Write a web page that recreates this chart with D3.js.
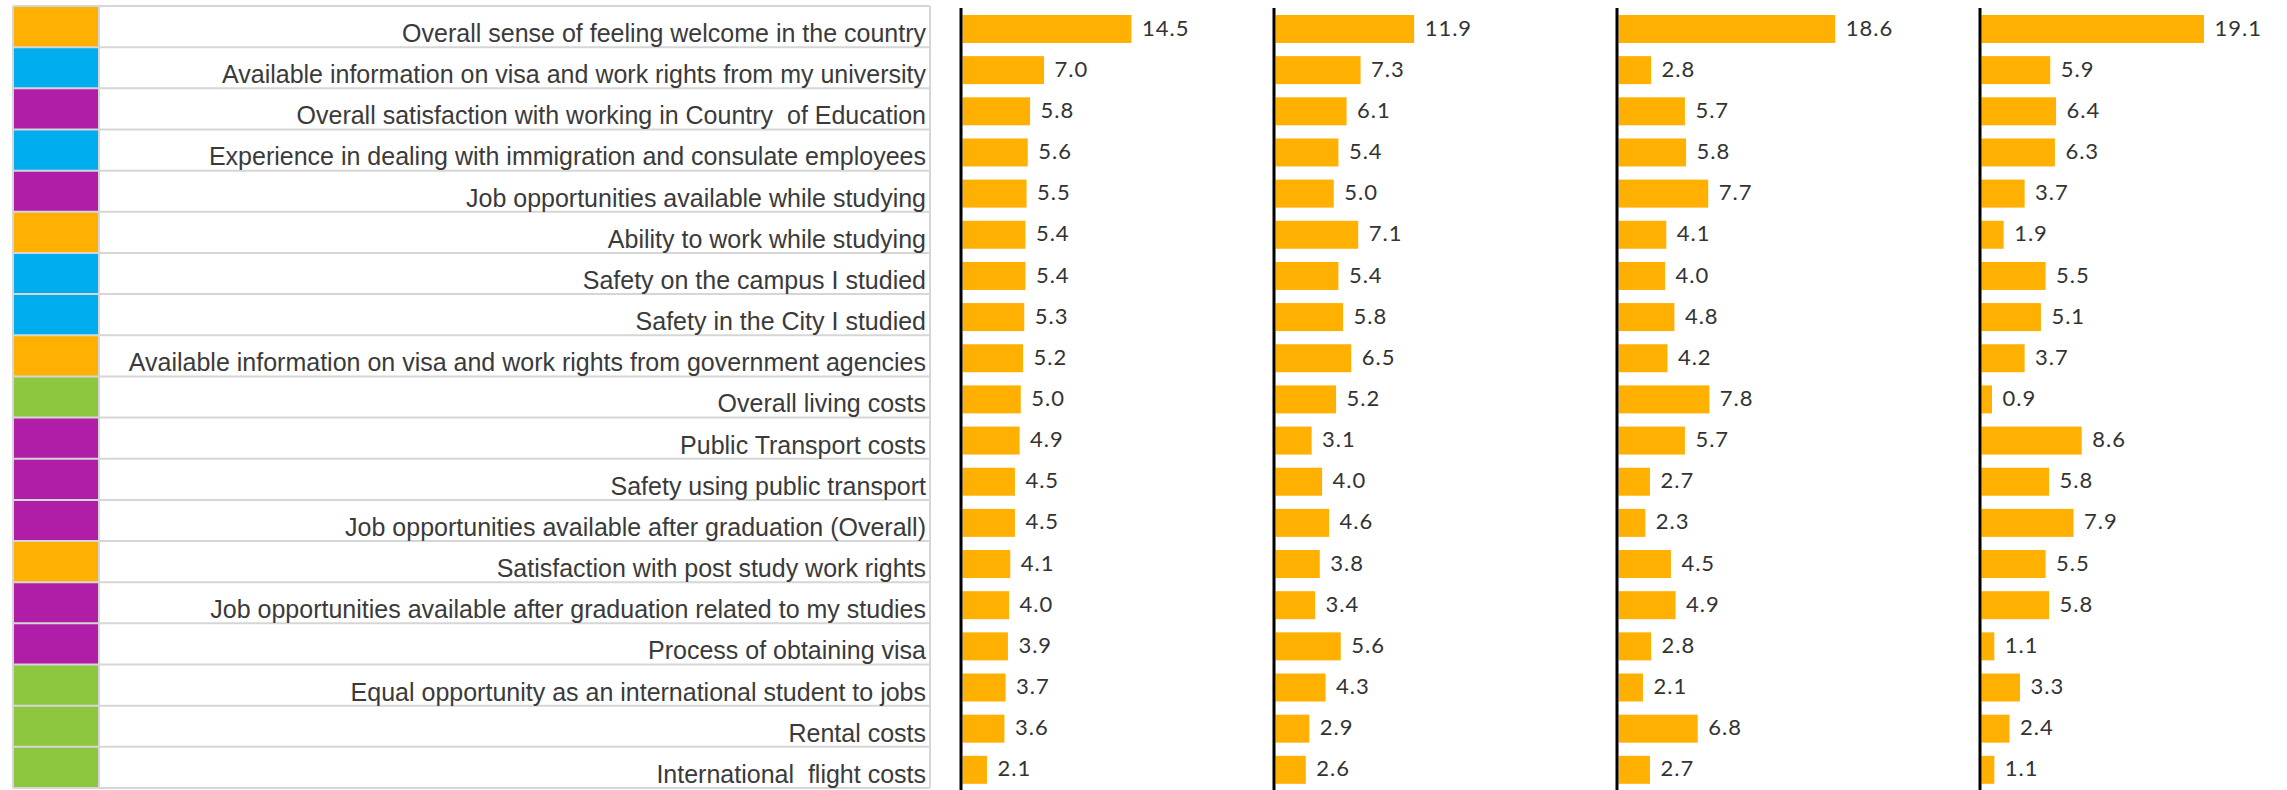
<!DOCTYPE html>
<html>
<head>
<meta charset="utf-8">
<script src="https://cdn.jsdelivr.net/npm/d3@7"></script>
<style>
  body { margin: 0; background: #fff; }
  .label { font-family: "Liberation Sans", Arial, sans-serif; fill: #3a3a3a; }
  .value { font-family: Lato, "Liberation Sans", sans-serif; fill: #333; }
</style>
</head>
<body>
<div id="chart"></div>
<script>
// categories, top to bottom
var categories = [
  "Overall sense of feeling welcome in the country",
  "Available information on visa and work rights from my university",
  "Overall satisfaction with working in Country  of Education",
  "Experience in dealing with immigration and consulate employees",
  "Job opportunities available while studying",
  "Ability to work while studying",
  "Safety on the campus I studied",
  "Safety in the City I studied",
  "Available information on visa and work rights from government agencies",
  "Overall living costs",
  "Public Transport costs",
  "Safety using public transport",
  "Job opportunities available after graduation (Overall)",
  "Satisfaction with post study work rights",
  "Job opportunities available after graduation related to my studies",
  "Process of obtaining visa",
  "Equal opportunity as an international student to jobs",
  "Rental costs",
  "International  flight costs"
];

// group of each category (drives the colour swatch)
var groups = ["A", "B", "C", "B", "C", "A", "B", "B", "A", "D",
              "C", "C", "C", "A", "C", "C", "D", "D", "D"];

// four panels of values
var series1 = [14.5, 7.0, 5.8, 5.6, 5.5, 5.4, 5.4, 5.3, 5.2, 5.0, 4.9, 4.5, 4.5, 4.1, 4.0, 3.9, 3.7, 3.6, 2.1];
var series2 = [11.9, 7.3, 6.1, 5.4, 5.0, 7.1, 5.4, 5.8, 6.5, 5.2, 3.1, 4.0, 4.6, 3.8, 3.4, 5.6, 4.3, 2.9, 2.6];
var series3 = [18.6, 2.8, 5.7, 5.8, 7.7, 4.1, 4.0, 4.8, 4.2, 7.8, 5.7, 2.7, 2.3, 4.5, 4.9, 2.8, 2.1, 6.8, 2.7];
var series4 = [19.1, 5.9, 6.4, 6.3, 3.7, 1.9, 5.5, 5.1, 3.7, 0.9, 8.6, 5.8, 7.9, 5.5, 5.8, 1.1, 3.3, 2.4, 1.1];

var allSeries = [series1, series2, series3, series4];

var width = 2287, height = 790;

var svg = d3.select("#chart").append("svg")
    .attr("width", width)
    .attr("height", height);

var groupColor = d3.scaleOrdinal()
    .domain(["A", "B", "C", "D"])
    .range(["#ffb000", "#00aeef", "#b01ea8", "#8dc63f"]);

// ---- left table ----
var tableLeft = 13, swatchRight = 99, tableRight = 930;

var rowY = d3.scaleBand()
    .domain(d3.range(categories.length))
    .range([6, 788]);

var table = svg.append("g").attr("class", "table");

table.selectAll(".swatch")
    .data(categories)
    .enter().append("rect")
    .attr("class", "swatch")
    .attr("x", tableLeft)
    .attr("y", function(d, i) { return rowY(i); })
    .attr("width", swatchRight - tableLeft)
    .attr("height", rowY.bandwidth())
    .attr("fill", function(d, i) { return groupColor(groups[i]); });

// horizontal grid lines
table.selectAll(".hline")
    .data(d3.range(categories.length + 1))
    .enter().append("line")
    .attr("class", "hline")
    .attr("x1", tableLeft)
    .attr("x2", tableRight)
    .attr("y1", function(i) { return i < categories.length ? rowY(i) : rowY(i - 1) + rowY.bandwidth(); })
    .attr("y2", function(i) { return i < categories.length ? rowY(i) : rowY(i - 1) + rowY.bandwidth(); })
    .attr("stroke", "#d6d6d6")
    .attr("stroke-width", 2);

// vertical grid lines
table.selectAll(".vline")
    .data([tableLeft, swatchRight, tableRight])
    .enter().append("line")
    .attr("class", "vline")
    .attr("x1", function(d) { return d; })
    .attr("x2", function(d) { return d; })
    .attr("y1", rowY.range()[0])
    .attr("y2", rowY.range()[1])
    .attr("stroke", "#d6d6d6")
    .attr("stroke-width", 2);

table.selectAll(".label")
    .data(categories)
    .enter().append("text")
    .attr("class", "label")
    .attr("x", tableRight - 4)
    .attr("y", function(d, i) { return rowY(i) + 36; })
    .attr("text-anchor", "end")
    .style("font-size", "25px")
    .style("white-space", "pre")
    .text(function(d) { return d; });

// ---- bar panels ----
var panelX = [961, 1274, 1617, 1980];

var x = d3.scaleLinear()
    .domain([0, 20])
    .range([0, 233]);

var barY = d3.scaleBand()
    .domain(d3.range(categories.length))
    .range([8.4, 790.4])
    .paddingInner(0.32)
    .paddingOuter(0.16);

allSeries.forEach(function(values, p) {
    var g = svg.append("g")
        .attr("class", "panel")
        .attr("transform", "translate(" + panelX[p] + ",0)");

    g.selectAll(".bar")
        .data(values)
        .enter().append("rect")
        .attr("class", "bar")
        .attr("x", 1.5)
        .attr("y", function(d, i) { return barY(i); })
        .attr("width", function(d) { return x(d); })
        .attr("height", barY.bandwidth())
        .attr("fill", "#ffb000");

    g.selectAll(".value")
        .data(values)
        .enter().append("text")
        .attr("class", "value")
        .attr("x", function(d) { return x(d) + 12; })
        .attr("y", function(d, i) { return barY(i) + barY.bandwidth() / 2 + 1; })
        .attr("dominant-baseline", "middle")
        .style("font-size", "22px")
        .style("letter-spacing", "1px")
        .text(function(d) { return d3.format(".1f")(d); });

    // zero axis line
    g.append("line")
        .attr("x1", 0).attr("x2", 0)
        .attr("y1", 8).attr("y2", 790)
        .attr("stroke", "#000")
        .attr("stroke-width", 3);
});
</script>
</body>
</html>
